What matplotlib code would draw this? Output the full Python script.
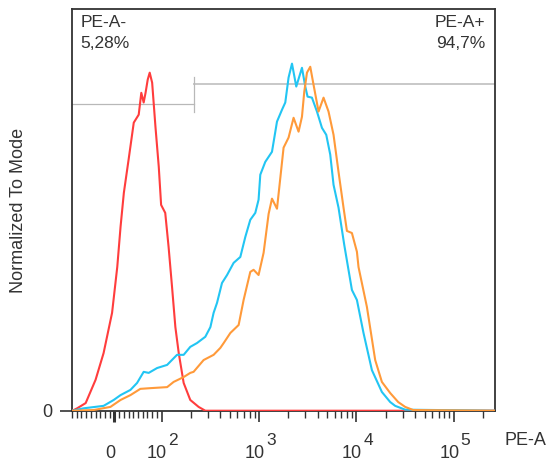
import matplotlib
matplotlib.use("Agg")
import matplotlib.pyplot as plt

plt.rcParams['font.family'] = ['Liberation Sans', 'DejaVu Sans']

# histogram curves (PE-A fluorescence, % of mode)
red_x = [-89, -79, -61, -40, -23, -5, 6, 13, 20, 30, 41, 51.5, 57, 62, 66, 70.6, 74.8, 80, 87,
         94, 99, 109, 118, 128, 138.5, 150, 168.5, 197, 240, 281, 262144]
red_y = [0, 0.7, 2.2, 8.9, 16.6, 28.2, 41.4, 53, 62.8, 72.3, 83, 85.3, 91.6, 88.8, 91.6, 95.4, 97.4,
         94.5, 81.8, 70.3, 59.3, 57, 47.2, 35.7, 24.1, 16.6, 8, 3.1, 1.1, 0, 0]

blue_x = [-89, -65, -23, -1.5, 13, 34, 48, 62, 72.7, 90.5, 114, 144, 168.5, 197, 231, 281, 317, 342,
          371, 417, 470, 549, 643, 724, 814, 916, 990, 1031, 1160, 1359, 1530, 1721, 1861, 2012,
          2181, 2413, 2761, 2985, 3151, 3496, 3935, 4428, 4901, 5386, 5823, 6552, 7500, 8990,
          10120, 11825, 14420, 18260, 22220, 25000, 31660, 262144]
blue_y = [0, 0.7, 1.4, 3.1, 4.5, 6, 8, 11.2, 10.9, 12.3, 13.2, 16.1, 16.1, 18.4, 19.5, 21.3, 24.1,
          28.2, 31.1, 36.8, 39.1, 42.6, 44.3, 50.1, 55, 57, 60.8, 68, 71.7, 74.6, 83.3, 86.7, 88.8,
          96, 100, 93.4, 98.8, 93.4, 90.5, 90.2, 86.2, 81.5, 79.5, 73.8, 65.1, 58.5, 47.8, 34.8,
          31.9, 22.4, 11.7, 5.4, 2.5, 1.4, 0.3, 0]

orange_x = [-89, -44, -8.5, 13, 34, 55, 76, 114, 133, 168.5, 197, 213, 270, 342, 401, 434, 508, 618,
            695, 814, 880, 990, 1115, 1255, 1359, 1530, 1788, 2012, 2264, 2548, 2761, 2915, 3107,
            3359, 3631, 4086, 4598, 5173, 5823, 6552, 7374, 7990, 8990, 10120, 10510, 12815,
            15590, 18260, 22220, 26840, 31660, 38240, 262144]
orange_y = [0, 0.2, 1.1, 3.1, 4.5, 6.3, 6.5, 6.8, 8.3, 9.7, 10.9, 11.2, 14.6, 16.1, 18.1, 19.5,
            22.4, 24.7, 31.9, 40, 40.6, 39.1, 45.5, 56.7, 61.1, 58.2, 75.8, 78.7, 84.4, 80.4, 84.7,
            91.9, 97.4, 99.1, 93.9, 86.2, 90.2, 86.2, 79.5, 68.8, 58.5, 51.8, 51.2, 45.8, 41.4,
            29.9, 14.6, 8.3, 5.1, 2.5, 1.1, 0.2, 0]

# gates
gate_split = 217
gate_neg_y = 88.5
gate_pos_y = 94
gate_labels = ["PE-A-\n5,28%", "PE-A+\n94,7%"]

tick_vals = [100, 1000, 10000, 100000]
tick_exps = ["2", "3", "4", "5"]

xmin, xmax = -89, 262144
ymax = 115.66
text_col = "#333333"

fig = plt.figure(figsize=(5.47, 4.62), dpi=100)
ax = fig.add_axes([0.1316, 0.1110, 0.7726, 0.8689])
ax.set_xscale("symlog", linthresh=100, linscale=0.4357)

ax.plot(red_x, red_y, color="#ff3d3d", lw=1.5, zorder=3)
ax.plot(blue_x, blue_y, color="#22c5f3", lw=1.5, zorder=3)
ax.plot(orange_x, orange_y, color="#ff9a3a", lw=1.5, zorder=3)

# gate lines
ax.plot([xmin, gate_split], [gate_neg_y, gate_neg_y], color="#b8b8b8", lw=0.9, zorder=2)
ax.plot([gate_split, xmax], [gate_pos_y, gate_pos_y], color="#c8c8c8", lw=1.4, zorder=2)
ax.plot([gate_split, gate_split], [86, 96.2], color="#b8b8b8", lw=0.9, zorder=2)

ax.text(0.02, 0.985, gate_labels[0], transform=ax.transAxes, ha="left", va="top",
        fontsize=12.5, color=text_col, linespacing=1.45)
ax.text(0.977, 0.985, gate_labels[1], transform=ax.transAxes, ha="right", va="top",
        fontsize=12.5, color=text_col, linespacing=1.45, multialignment="right")

ax.set_xlim(xmin, xmax)
ax.set_ylim(0, ymax)

minor = []
for k in range(1, 10):
    minor += [-10 * k, 10 * k]
for d in [100, 1000, 10000, 100000]:
    for k in range(2, 10):
        if d * k < xmax:
            minor.append(d * k)
ax.set_xticks([0] + tick_vals)
ax.set_xticklabels([""] * (len(tick_vals) + 1))
ax.set_xticks(minor, minor=True)
ax.tick_params(axis="x", which="major", length=8, width=1.2, colors=text_col)
ax.tick_params(axis="x", which="minor", length=5, width=1.0, color=text_col)
ax.get_xticklines()[0].set_markeredgewidth(2.2)

# tick labels as "10" with a full-size raised exponent
trans = ax.get_xaxis_transform()
ax.annotate("0", xy=(0, 0), xycoords=trans, xytext=(-3, -34), textcoords="offset points",
            ha="center", va="baseline", fontsize=13, color=text_col)
for v, e in zip(tick_vals, tick_exps):
    ax.annotate("10", xy=(v, 0), xycoords=trans, xytext=(4, -34), textcoords="offset points",
                ha="right", va="baseline", fontsize=13, color=text_col)
    ax.annotate(e, xy=(v, 0), xycoords=trans, xytext=(5, -24.5), textcoords="offset points",
                ha="left", va="baseline", fontsize=12.5, color=text_col)

ax.set_yticks([0])
ax.set_yticklabels(["0"])
ax.tick_params(axis="y", length=9, width=1.2, pad=5, labelsize=13, colors=text_col)

for s in ax.spines.values():
    s.set_color("#333333")
    s.set_linewidth(1.3)

ax.set_ylabel("Normalized To Mode", fontsize=13, color=text_col, labelpad=11)
fig.text(0.999, 0.046, "PE-A", ha="right", va="center", fontsize=13, color=text_col)

fig.savefig("out.png", dpi=100)
